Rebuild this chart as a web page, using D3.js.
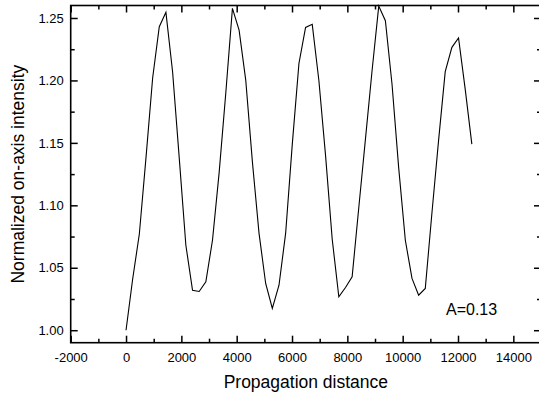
<!DOCTYPE html>
<html>
<head>
<meta charset="utf-8">
<script src="https://cdn.jsdelivr.net/npm/d3@7"></script>
<style>
  body { margin: 0; background: #fff; }
  svg { display: block; font-family: "Liberation Sans", Arial, sans-serif; }
</style>
</head>
<body>
<svg id="chart" width="539" height="398"></svg>
<script>
// propagation distance (x) and normalized on-axis intensity (y)
const distance = [0, 240, 481, 721, 962, 1202, 1442, 1683, 1923, 2163, 2404, 2644, 2885, 3125,
  3365, 3606, 3846, 4087, 4327, 4567, 4808, 5048, 5288, 5529, 5769, 6010, 6250, 6490, 6731,
  6971, 7212, 7452, 7692, 7933, 8173, 8413, 8654, 8894, 9135, 9375, 9615, 9856, 10096, 10337,
  10577, 10817, 11058, 11298, 11538, 11779, 12019, 12260, 12500];
const intensity = [1.000, 1.041, 1.077, 1.138, 1.202, 1.243, 1.2545, 1.207, 1.138, 1.068,
  1.032, 1.031, 1.0387, 1.072, 1.126, 1.190, 1.2577, 1.2403, 1.2003, 1.135, 1.0775, 1.0374,
  1.0174, 1.036, 1.0775, 1.149, 1.2136, 1.2424, 1.2449, 1.200, 1.140, 1.073, 1.0267, 1.0342,
  1.0427, 1.098, 1.153, 1.208, 1.2595, 1.2478, 1.197, 1.130, 1.072, 1.0415, 1.028, 1.0334,
  1.094, 1.152, 1.207, 1.2265, 1.234, 1.193, 1.149];
const xMajorTicks = [-2000, 0, 2000, 4000, 6000, 8000, 10000, 12000, 14000];
const xMinorTicks = [-1000, 1000, 3000, 5000, 7000, 9000, 11000, 13000];
const yMajorTicks = [1.00, 1.05, 1.10, 1.15, 1.20, 1.25];
const yMinorTicks = [1.025, 1.075, 1.125, 1.175, 1.225];
const note = "A=0.13";

const margin = { top: 5.5, right: -2, bottom: 55.3, left: 70.7 };
const width = 539, height = 398;
const x0 = margin.left, x1 = width - margin.right;
const y0 = height - margin.bottom, y1 = margin.top;

const svg = d3.select("#chart");

const xScale = d3.scaleLinear().domain([-2000, 15000]).range([x0, x1]);
const yScale = d3.scaleLinear().domain([0.99, 1.26]).range([y0, y1]);

const data = distance.map((d, i) => ({ x: d, y: intensity[i] }));

// data line
const line = d3.line().x(d => xScale(d.x)).y(d => yScale(d.y));
svg.append("path")
  .datum(data)
  .attr("fill", "none")
  .attr("stroke", "#000")
  .attr("stroke-width", 1.1)
  .attr("stroke-linejoin", "miter")
  .attr("d", line);

// axes: ticks point inward, labels only on bottom and left
function styleAxis(g) {
  g.selectAll(".domain").remove();
  g.selectAll(".tick line").attr("stroke", "#000").attr("stroke-width", 1.5);
  g.selectAll(".tick text").attr("fill", "#000").attr("font-size", "13px")
    .attr("font-family", "Liberation Sans, Arial, sans-serif");
}

const bottomAxis = svg.append("g").attr("transform", `translate(0,${y0})`);
bottomAxis.append("g").call(d3.axisBottom(xScale).tickValues(xMajorTicks).tickSizeInner(-7).tickSizeOuter(0).tickPadding(10).tickFormat(d => String(d))).call(styleAxis);
bottomAxis.append("g").call(d3.axisBottom(xScale).tickValues(xMinorTicks).tickSizeInner(-4).tickSizeOuter(0).tickFormat("")).call(styleAxis);

const topAxis = svg.append("g").attr("transform", `translate(0,${y1})`);
topAxis.append("g").call(d3.axisTop(xScale).tickValues(xMajorTicks).tickSizeInner(-7).tickSizeOuter(0).tickFormat("")).call(styleAxis);
topAxis.append("g").call(d3.axisTop(xScale).tickValues(xMinorTicks).tickSizeInner(-4).tickSizeOuter(0).tickFormat("")).call(styleAxis);

const leftAxis = svg.append("g").attr("transform", `translate(${x0},0)`);
leftAxis.append("g").call(d3.axisLeft(yScale).tickValues(yMajorTicks).tickSizeInner(-7).tickSizeOuter(0).tickPadding(7).tickFormat(d => d.toFixed(2))).call(styleAxis);
leftAxis.append("g").call(d3.axisLeft(yScale).tickValues(yMinorTicks).tickSizeInner(-4).tickSizeOuter(0).tickFormat("")).call(styleAxis);

const rightAxis = svg.append("g").attr("transform", `translate(${x1},0)`);
rightAxis.append("g").call(d3.axisRight(yScale).tickValues(yMajorTicks).tickSizeInner(-7).tickSizeOuter(0).tickFormat("")).call(styleAxis);
rightAxis.append("g").call(d3.axisRight(yScale).tickValues(yMinorTicks).tickSizeInner(-4).tickSizeOuter(0).tickFormat("")).call(styleAxis);

// frame
svg.append("rect")
  .attr("x", x0).attr("y", y1)
  .attr("width", x1 - x0).attr("height", y0 - y1)
  .attr("fill", "none")
  .attr("stroke", "#000")
  .attr("stroke-width", 1.6);

// axis titles
svg.append("text")
  .attr("x", (x0 + x1) / 2)
  .attr("y", 388)
  .attr("text-anchor", "middle")
  .attr("font-size", "17.5px")
  .text("Propagation distance");

svg.append("text")
  .attr("transform", `translate(23.5,${(y0 + y1) / 2}) rotate(-90)`)
  .attr("text-anchor", "middle")
  .attr("font-size", "17.5px")
  .text("Normalized on-axis intensity");

// annotation
svg.append("text")
  .attr("x", 446)
  .attr("y", 315)
  .attr("font-size", "16px")
  .text(note);
</script>
</body>
</html>
